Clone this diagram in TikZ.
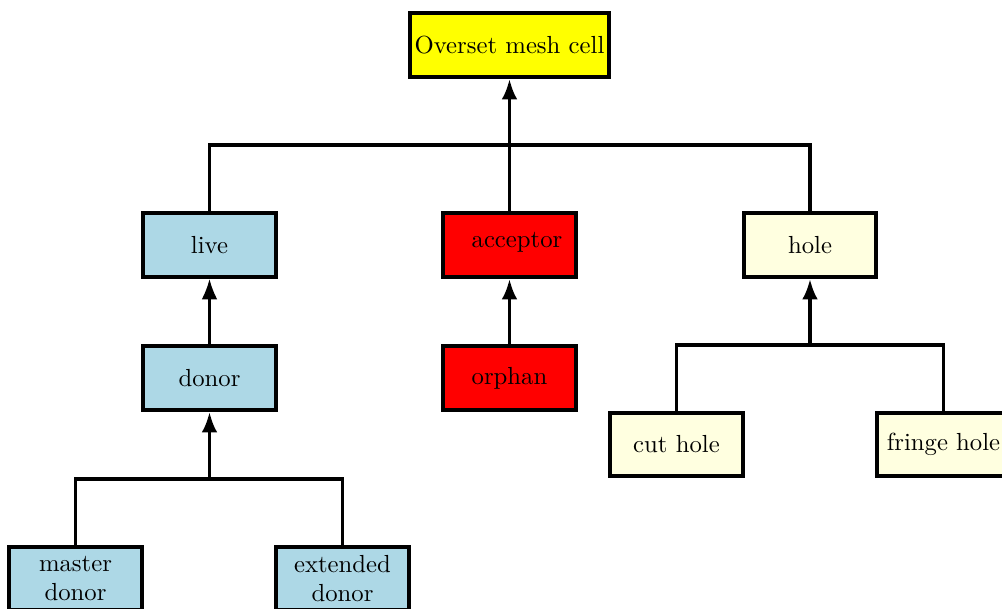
\documentclass[tikz,border=0pt]{standalone}
\usetikzlibrary{arrows.meta}
\definecolor{cyel}{RGB}{255,255,0}
\definecolor{cblue}{RGB}{173,216,230}
\definecolor{clyel}{RGB}{255,255,224}
\definecolor{cred}{RGB}{255,0,0}
\begin{document}
\begin{tikzpicture}[x=0.4167pt,y=-0.4167pt,
  box/.style={draw,line width=1.7pt,minimum width=55.2pt,minimum height=26.6pt,inner sep=1pt,align=center,font=\fontsize{10.3}{12}\selectfont},
  thickc/.style={line width=1.5pt},
  thinc/.style={line width=0.85pt},
  arr/.style={-{Latex[length=8.5pt,width=6.5pt]}}]
\useasboundingbox (0,0) rectangle (1002,609);
\begin{scope}
\clip (0,0) rectangle (1002,609);
\node[box,fill=cyel,minimum width=83.2pt] (top) at (509.5,45) {Overset mesh cell};
\node[box,fill=cblue] (live) at (209.5,245) {live};
\node[box,fill=cred] (acc) at (509.5,245) {};
\node[font=\fontsize{10.3}{12}\selectfont] at (517,242) {acceptor};
\node[box,fill=clyel] (hole) at (810,245) {hole};
\node[box,fill=cblue] (donor) at (209.5,378) {donor};
\node[box,fill=cred] (orph) at (509.5,378) {orphan};
\node[box,fill=clyel] (cut) at (676.5,444.5) {cut hole};
\node[box,fill=clyel] (fringe) at (943.5,444.5) {fringe hole};
\node[box,fill=cblue] (master) at (75.5,578.5) {master\\donor};
\node[box,fill=cblue] (ext) at (342.5,578.5) {extended\\donor};

\coordinate (b1) at (509.5,145);
\coordinate (b2) at (810,345);
\coordinate (b3) at (209.5,479);

% top tree
\draw[thickc] (live.north) |- (b1) -| (hole.north);
\draw[thinc] (acc.north) -- (b1);
\draw[thickc,arr] (b1) -- (top.south);
% donor -> live
\draw[thinc,arr] (donor.north) -- (live.south);
% orphan -> acceptor
\draw[thickc,arr] (orph.north) -- (acc.south);
% hole tree
\draw[thickc] (cut.north) |- (b2) -| (fringe.north);
\draw[thickc,arr] (b2) -- (hole.south);
% donor tree
\draw[thickc] (master.north) |- (b3) -| (ext.north);
\draw[thickc,arr] (b3) -- (donor.south);
\end{scope}
\end{tikzpicture}
\end{document}
